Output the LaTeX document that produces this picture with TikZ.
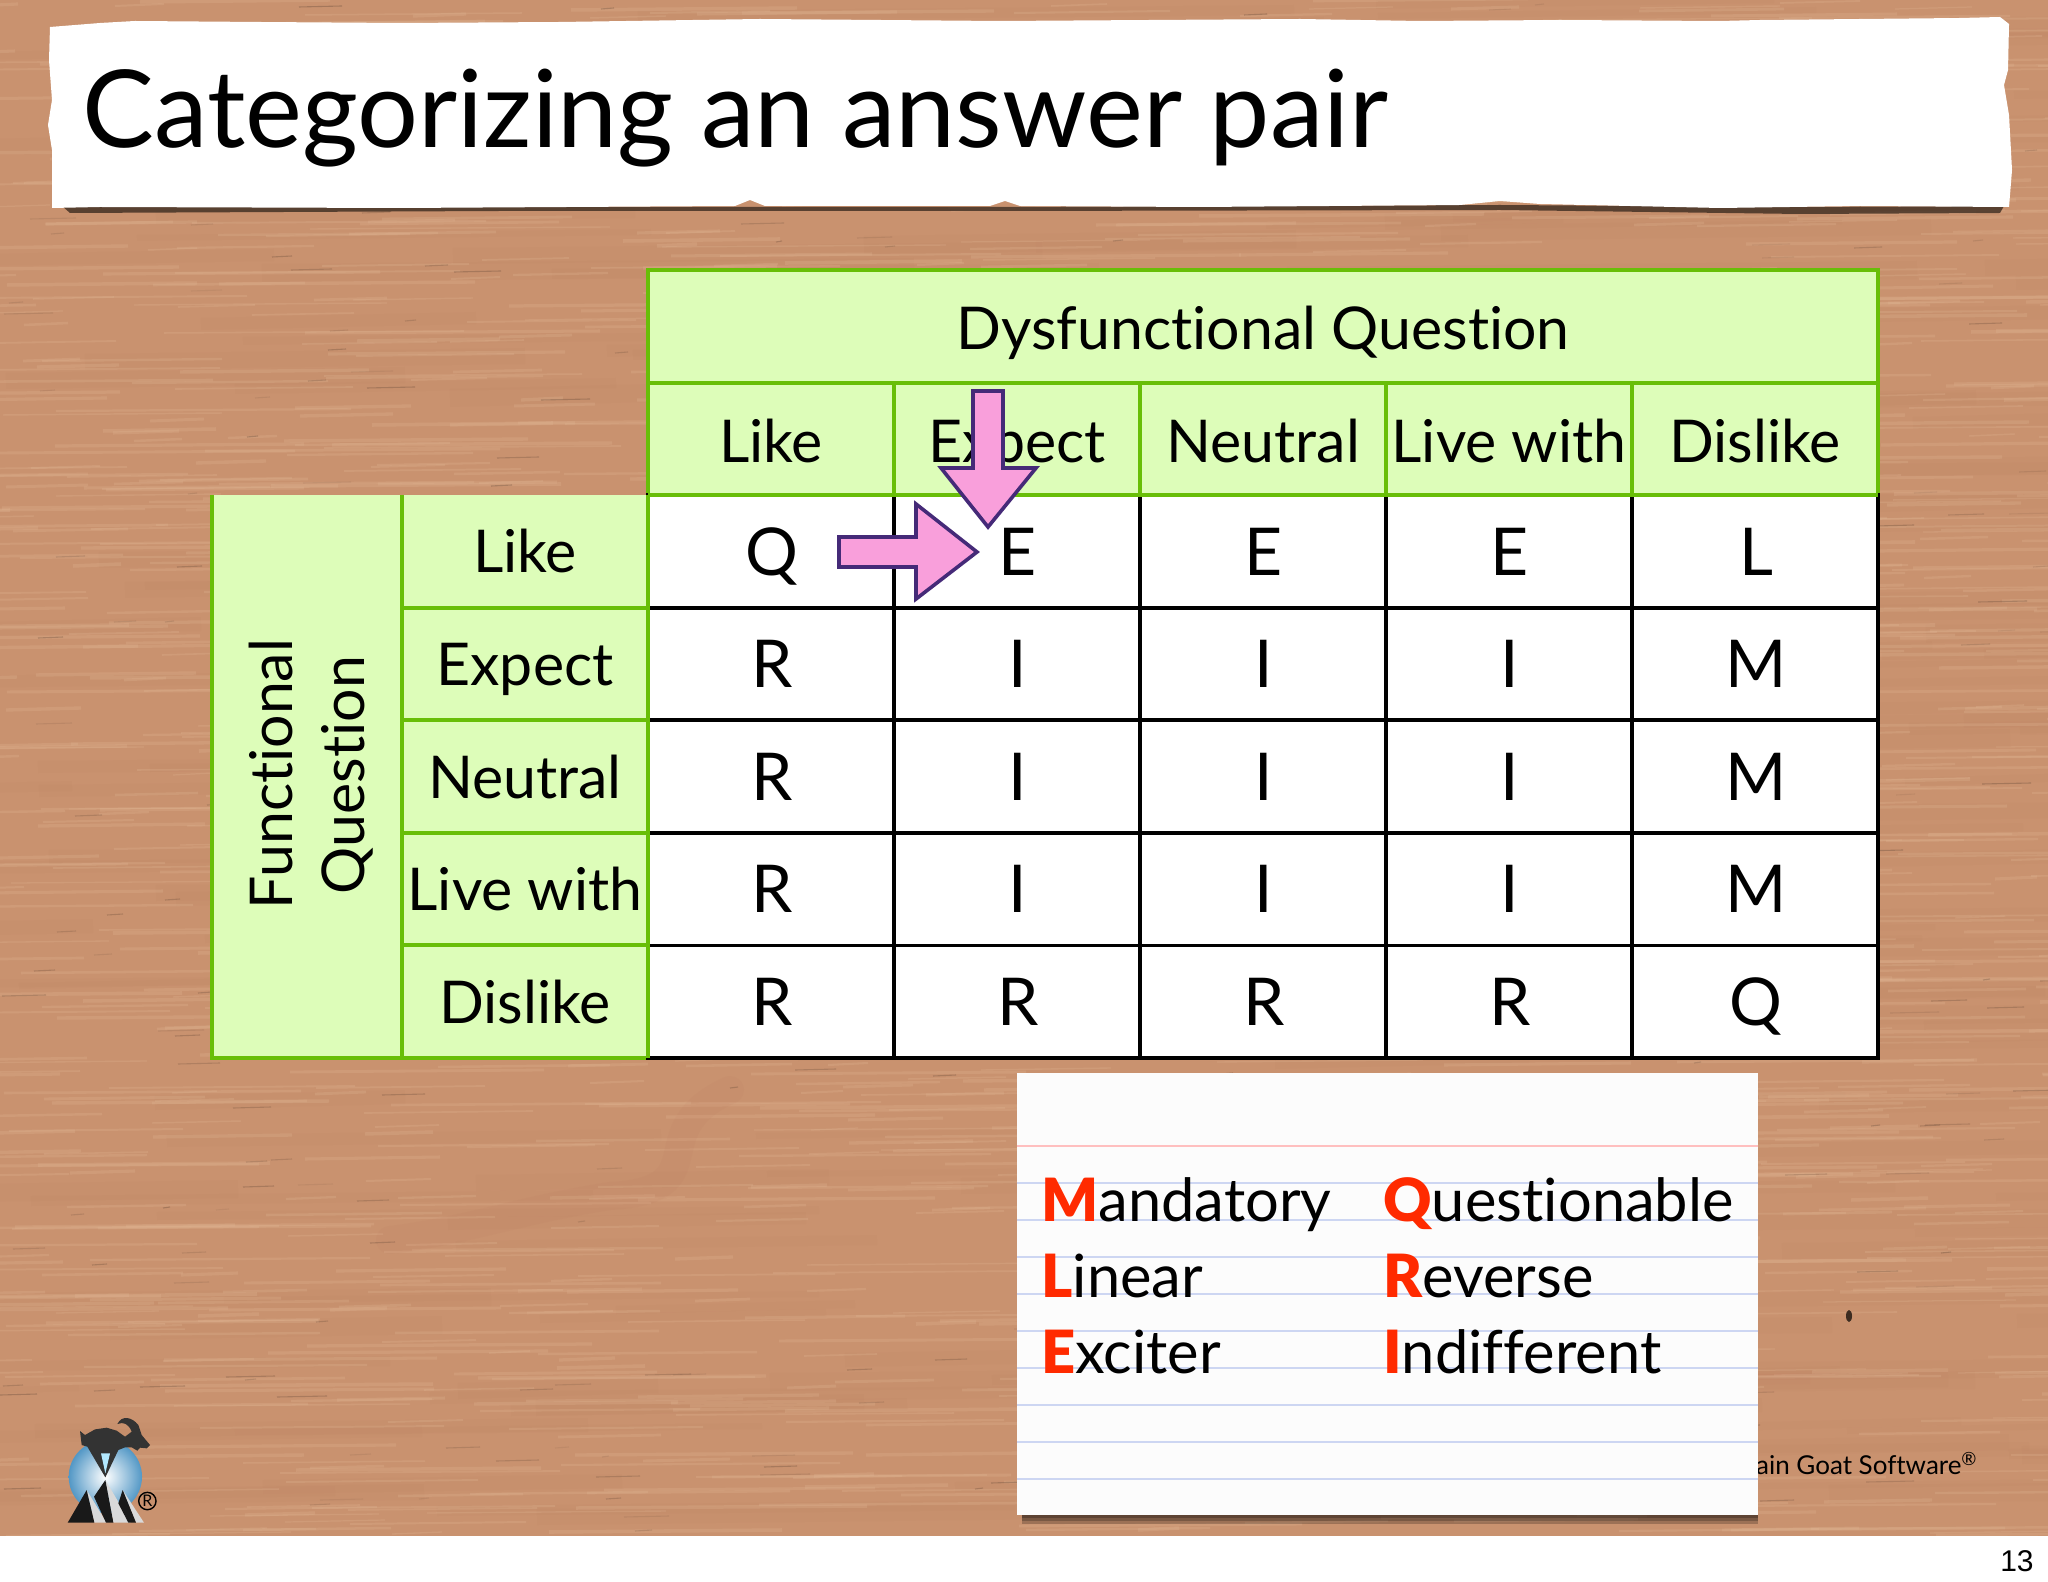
\documentclass[tikz,border=0pt]{standalone}
\usepackage{fontspec}
\setmainfont[Ligatures=NoCommon]{Lato}
\newfontfamily\pagefont{Liberation Sans}
\newfontfamily\keyfont{Lato Black}
\usepackage{xcolor}
\definecolor{wood}{HTML}{C9926F}
\definecolor{woodlight}{HTML}{E2B896}
\definecolor{woodred}{HTML}{B5705A}
\definecolor{cellgreen}{HTML}{DDFDB9}
\definecolor{linegreen}{HTML}{68BE08}
\definecolor{pinkfill}{HTML}{F99FDB}
\definecolor{pinkline}{HTML}{452A78}
\definecolor{keyred}{HTML}{FF2A00}
\definecolor{ruleblue}{HTML}{CDD6F2}
\definecolor{goatgrey}{HTML}{333333}
\tikzset{
  cellbody/.style={font=\fontsize{33}{36}\selectfont,anchor=base},
  cellhead/.style={font=\fontsize{29.5}{36}\selectfont,anchor=base},
  keytext/.style={font=\fontsize{29.8}{36}\selectfont,anchor=base west,inner sep=0pt},
  greenline/.style={draw=linegreen,line width=2pt},
  greenbox/.style={greenline,fill=cellgreen},
  whitebox/.style={draw=black,fill=white,line width=1.9pt},
  pinkarrow/.style={draw=pinkline,fill=pinkfill,line width=1.8pt},
}
\newcommand{\keyword}[2]{{\keyfont\color{keyred}#1}#2}
\begin{document}
\begin{tikzpicture}[x=0.5pt,y=-0.5pt]
\useasboundingbox (0,0) rectangle (2048,1582);
\fill[wood] (0,0) rectangle (2048,1536);
\begin{scope}
\clip (0,0) rectangle (2048,1536);
\pgfmathsetseed{13}
% broad bands of the board
\foreach \i in {1,...,220}{
  \pgfmathsetmacro{\gx}{random(-200,2048)}
  \pgfmathsetmacro{\gy}{random(0,1536)}
  \pgfmathsetmacro{\glen}{random(200,700)}
  \pgfmathsetmacro{\gwd}{random(3,9)}
  \draw[line width=\gwd pt,woodred,opacity=0.06] (\gx,\gy) -- ++(\glen,-6);
}
% fine light grain
\foreach \i in {1,...,1700}{
  \pgfmathsetmacro{\gx}{random(-100,2048)}
  \pgfmathsetmacro{\gy}{random(0,1536)}
  \pgfmathsetmacro{\glen}{random(40,300)}
  \pgfmathsetmacro{\gwd}{0.6+1.2*rnd}
  \draw[line width=\gwd pt,woodlight,opacity=0.25] (\gx,\gy) -- ++(\glen,-2);
}
% dark specks
\foreach \i in {1,...,420}{
  \pgfmathsetmacro{\gx}{random(0,2048)}
  \pgfmathsetmacro{\gy}{random(0,1536)}
  \pgfmathsetmacro{\glen}{random(6,50)}
  \pgfmathsetmacro{\gop}{0.08+0.22*rnd}
  \draw[line width=0.55pt,black!60!wood,opacity=\gop] (\gx,\gy) -- ++(\glen,-1);
}
% the darker swirl and the knot
\draw[line width=14pt,woodred,opacity=0.07,line cap=round] (730,1090) .. controls (640,1130) and (720,1190) .. (610,1196) .. controls (520,1210) and (470,1230) .. (390,1240);
\fill[black!70!wood] (1849,1316) ellipse (3 and 6);
\end{scope}
\fill[white] (0,1536) rectangle (2048,1582);
% torn title paper
\fill[black!70!wood,opacity=0.8] (62,206) -- (300,207) -- (740,207) -- (1000,207) -- (1500,205) -- (1800,207) -- (2004,206) -- (2000,213) -- (1800,214) -- (1500,210) -- (1000,211) -- (500,211) -- (70,213) -- cycle;
\fill[white] (50,27) -- (100,23) -- (135,21) -- (260,22) -- (400,23) -- (560,22) -- (760,19) -- (1000,21) -- (1300,19) -- (1420,21) -- (1560,20) -- (1720,21) -- (1760,20) -- (1960,18) -- (2000,17) -- (2009,24) -- (2008,70) -- (2004,85) -- (2009,115) -- (2012,170) -- (2009,207) -- (1860,206) -- (1720,208) -- (1540,204) -- (1500,201) -- (1460,205) -- (1200,207) -- (1020,206) -- (1005,201) -- (990,206) -- (765,206) -- (750,200) -- (735,206) -- (400,208) -- (100,207) -- (52,208) -- (52,150) -- (48,125) -- (52,100) -- (49,60) -- cycle;
\node[anchor=base west,inner sep=0pt,font=\fontsize{53.8}{60}\selectfont] (title) at (82,148) {Categorizing an answer pair};
% headers
\draw[greenbox] (648,270) rectangle (1878,383);
\node[cellhead] (dysfunctional) at (1263,350) {Dysfunctional Question};
\fill[cellgreen] (212,495) rectangle (648,1058);
\draw[greenline] (212,495) -- (212,1058) -- (648,1058);
\draw[greenline] (402,495) -- (402,1058);
\node[cellhead,rotate=90] (functional) at (292,774) {Functional};
\node[cellhead,rotate=90] (question) at (364,775) {Question};
\foreach \lab [count=\n from 0] in {Like,Expect,Neutral,Live with,Dislike}{
  \draw[greenbox] ({648+246*\n},383) rectangle ({894+246*\n},495);
  \node[cellhead] (col\n) at ({771+246*\n},463) {\lab};
  \draw[greenline] (402,{607.6+112.6*\n}) -- (648,{607.6+112.6*\n});
  \node[cellhead] (row\n) at (525,{573+112.6*\n}) {\lab};
}
% answers
\foreach \r/\line in {0/{Q,E,E,E,L},1/{R,I,I,I,M},2/{R,I,I,I,M},3/{R,I,I,I,M},4/{R,R,R,R,Q}}{
  \foreach \cat [count=\c from 0] in \line {
    \draw[whitebox] ({648+246*\c},{495+112.6*\r}) rectangle ({894+246*\c},{607.6+112.6*\r});
    \node[cellbody] (ans\r\c) at ({772+246*\c},{575+112.6*\r}) {\cat};
  }
}
\draw[greenline] (648,495) -- (1878,495);
\draw[greenline] (648,495) -- (648,1058);
% pink arrows
\draw[pinkarrow] (973,391) -- (1003,391) -- (1003,468) -- (1036,468) -- (988,527) -- (941,468) -- (973,468) -- cycle;
\draw[pinkarrow] (839,537) -- (916,537) -- (916,504) -- (977,552) -- (916,599) -- (916,567) -- (839,567) -- cycle;
% footer text, behind the card
\node[anchor=base east,inner sep=0pt,font=\fontsize{13}{15}\selectfont] (footer) at (1978,1474) {ain Goat Software\textsuperscript{®}};
% legend card
\foreach \s in {9,6,3}{
  \fill[black,opacity=0.22] (1022,1500) rectangle (1758,{1515+\s});
}
\fill[white!98!gray] (1017,1073) rectangle (1758,1515);
\draw[red!25,line width=0.8pt] (1017,1146) -- (1758,1146);
\foreach \n in {0,...,8}{
  \draw[ruleblue,line width=0.9pt] (1017,{1183+37*\n}) -- (1758,{1183+37*\n});
}
\node[keytext] (mandatory) at (1041,1221) {\keyword{M}{andatory}};
\node[keytext] (linear) at (1041,1297) {\keyword{L}{inear}};
\node[keytext] (exciter) at (1041,1373) {\keyword{E}{xciter}};
\node[keytext] (questionable) at (1383,1221) {\keyword{Q}{uestionable}};
\node[keytext] (reverse) at (1383,1297) {\keyword{R}{everse}};
\node[keytext] (indifferent) at (1383,1373) {\keyword{I}{ndifferent}};
% logo
\begin{scope}[shift={(0,1360)},x=0.1667pt,y=-0.1667pt]
\shade[inner color=white,outer color=blue!40!cyan!50!gray!90] (316,350) circle (110);
\fill[goatgrey] (240,213) -- (255,225) -- (285,208) -- (320,203) -- (350,212) -- (375,230) -- (395,215) .. controls (385,190) and (370,185) .. (352,192) .. controls (365,165) and (395,170) .. (415,195) -- (425,225) -- (450,255) -- (440,265) -- (420,263) -- (412,272) -- (395,262) -- (375,262) -- (355,270) -- (316,352) -- (262,260) -- (245,255) -- cycle;
\fill[blue!30!cyan!30] (303,280) -- (330,280) -- (316,340) -- cycle;
\fill[black!15] (260,390) -- (320,488) -- (283,488) -- cycle;
\fill[black!15] (316,360) -- (392,488) -- (340,488) -- cycle;
\fill[black!15] (368,390) -- (432,488) -- (408,488) -- cycle;
\fill[black!90] (203,488) -- (260,390) -- (283,488) -- cycle;
\fill[black!90] (316,360) -- (282,410) -- (318,488) -- (340,488) -- cycle;
\fill[black!90] (368,390) -- (355,430) -- (385,488) -- (408,488) -- cycle;
\draw[black,line width=0.7pt] (442,423) circle (26);
\node[inner sep=0pt,font=\fontsize{8}{9}\selectfont] (regmark) at (442,423) {R};
\end{scope}
\node[anchor=base east,inner sep=0pt,font=\pagefont\fontsize{15}{18}\selectfont] (pagenum) at (2034,1571) {13};
\end{tikzpicture}
\end{document}
